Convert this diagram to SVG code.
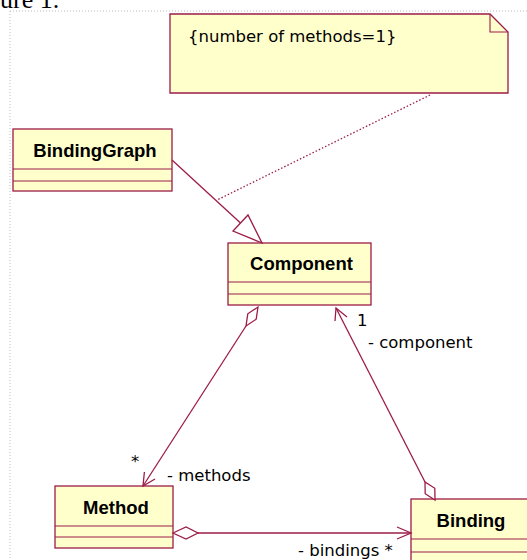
<svg xmlns="http://www.w3.org/2000/svg" width="527" height="560" viewBox="0 0 527 560">
<style>
.box{fill:#FFFFCC;stroke:#9C1C48;stroke-width:1.3}
.div{stroke:#9C1C48;stroke-width:1.1;fill:none}
.ln{stroke:#9C1C48;stroke-width:1.3;fill:none}
.hd{fill:#FFFFFF;stroke:#9C1C48;stroke-width:1.3}
.cn{font-family:"Liberation Sans",Arial,sans-serif;font-weight:bold;font-size:18.5px;fill:#000;text-anchor:middle}
.lb{font-family:"DejaVu Sans",Verdana,sans-serif;font-size:16.5px;fill:#000}
</style>
<rect width="527" height="560" fill="#FFFFFF"/>
<text x="0" y="8" font-family="Liberation Serif,'Times New Roman',serif" font-size="26" fill="#000">ure 1.</text>
<path d="M10 11H527M10 11V560" stroke="#BDBDBD" stroke-width="1" stroke-dasharray="1 2" fill="none"/>
<g id="note">
<path class="box" d="M170 14H490L508 32V93H170Z"/>
<path class="div" d="M490 14V32H508"/>
<text class="lb" x="188" y="42">{number of methods=1}</text>
</g>
<g id="BindingGraph">
<rect class="box" x="13" y="129" width="159" height="62"/>
<path class="div" d="M13 169H172M13 181H172"/>
<text class="cn" x="95" y="157">BindingGraph</text>
</g>
<g id="Component">
<rect class="box" x="228" y="243" width="143" height="62"/>
<path class="div" d="M228 282H371M228 294H371"/>
<text class="cn" x="301.5" y="270">Component</text>
</g>
<g id="Method">
<rect class="box" x="55" y="486" width="118" height="62"/>
<path class="div" d="M55 526H173M55 537H173"/>
<text class="cn" x="116" y="514">Method</text>
</g>
<g id="Binding">
<rect class="box" x="411" y="499" width="130" height="70"/>
<path class="div" d="M411 539H541M411 552H541"/>
<text class="cn" x="471" y="527">Binding</text>
</g>
<g id="connectors">
<path class="ln" d="M430 95L217 200" stroke-dasharray="1.5 2"/>
<path class="ln" d="M172 160L240.5 223"/>
<path class="hd" d="M262 243L233 231L248 215Z"/>
<path class="ln" d="M246 326L143 486"/>
<path class="hd" d="M258 307L256.2 319.2L246 326L247.8 313.8Z"/>
<path class="ln" d="M155 479L143 486L144.4 472"/>
<path class="ln" d="M425 482L336 308"/>
<path class="hd" d="M435 500L434.8 488.3L425 482L425.2 493.7Z"/>
<path class="ln" d="M335 321L336 308L347 317"/>
<path class="ln" d="M198 533H411"/>
<path class="hd" d="M173 533L186 527L198 533L186 539Z"/>
<path class="ln" d="M397 527L411 533L397 539"/>
<text class="lb" x="131" y="467">*</text>
<text class="lb" x="167" y="481">- methods</text>
<text class="lb" x="357" y="326">1</text>
<text class="lb" x="368" y="348">- component</text>
<text class="lb" x="298" y="556">- bindings *</text>
</g>
</svg>
